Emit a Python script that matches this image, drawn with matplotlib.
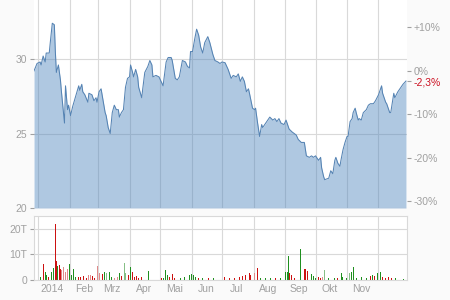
import numpy as np
import pandas as pd
import matplotlib
matplotlib.use("Agg")
import matplotlib.pyplot as plt
import matplotlib.dates as mdates
from matplotlib.ticker import FuncFormatter

plt.rcParams['font.family'] = ['Liberation Sans', 'DejaVu Sans']

# ==========================================
# 数据：收盘价（天数为 2014-01-01 起的偏移）
# ==========================================
price_days = [-4, -1, 2, 3, 5, 7, 8, 11, 12, 14, 16, 17, 18, 20, 22, 23, 26, 27, 29, 30,
              32, 34, 37, 40, 41, 43, 44, 46, 49, 50, 53, 55, 57, 58, 60, 62, 64, 66, 67, 69,
              71, 73, 75, 77, 79, 80, 82, 84, 86, 88, 90, 91, 93, 94, 96, 98, 99, 102, 103, 105,
              108, 110, 112, 113, 116, 119, 121, 123, 126, 128, 131, 132, 135, 137, 139, 142, 145, 147, 149, 150,
              152, 154, 156, 158, 160, 162, 164, 167, 169, 172, 174, 177, 179, 181, 184, 187, 190, 192, 195, 197,
              199, 201, 203, 205, 207, 208, 211, 213, 214, 216, 218, 220, 221, 225, 228, 231, 233, 235, 237, 239,
              242, 244, 247, 250, 254, 256, 259, 262, 264, 267, 269, 271, 273, 276, 278, 279, 281, 282, 286, 288,
              290, 292, 293, 295, 297, 298, 300, 302, 304, 305, 307, 309, 310, 312, 313, 315, 316, 318, 320, 323,
              325, 327, 330, 332, 335, 338, 339, 342, 343, 346, 347, 350, 351, 354, 356, 359, 362]
prices = [29.2, 29.7, 29.8, 29.6, 30.2, 29.8, 30.4, 30.4, 31.1, 32.4, 32.3, 30.5, 29.1, 29.6, 28.6, 27.8, 25.7, 28.2, 26.6, 26.9,
          26.2, 26.8, 27.5, 28.2, 27.9, 28.3, 27.8, 27.6, 27.1, 27.7, 27.6, 27.2, 27.4, 27.1, 27.8, 28.0, 27.2, 26.4, 26.2, 25.4,
          25.0, 26.4, 26.9, 26.6, 26.6, 26.1, 26.4, 26.6, 28.1, 28.7, 28.8, 29.6, 29.1, 28.8, 29.3, 28.8, 28.1, 27.4, 28.0, 29.1,
          29.5, 29.9, 29.6, 28.8, 28.9, 28.8, 28.5, 28.2, 29.8, 30.1, 30.1, 29.9, 28.7, 28.6, 28.8, 29.9, 29.8, 29.5, 29.4, 30.5,
          30.5, 31.3, 32.0, 31.6, 30.8, 30.4, 31.1, 31.5, 31.1, 30.3, 29.9, 29.8, 29.7, 29.8, 29.75, 29.3, 28.7, 28.9, 28.8, 29.0,
          28.5, 28.8, 28.5, 27.8, 28.0, 27.7, 26.7, 26.6, 26.7, 25.7, 24.8, 25.6, 25.4, 25.8, 26.1, 25.9, 26.0, 25.8, 26.0, 25.7,
          25.6, 25.9, 25.3, 25.1, 24.9, 24.6, 24.4, 24.4, 23.5, 23.4, 23.5, 23.4, 23.5, 23.2, 23.4, 22.7, 22.1, 21.9, 22.0, 22.5,
          22.3, 23.2, 23.4, 23.0, 22.8, 23.2, 23.9, 24.4, 24.8, 24.8, 25.8, 26.0, 26.4, 26.7, 26.4, 25.9, 26.0, 25.9, 26.4, 26.6,
          26.9, 27.0, 27.0, 27.2, 27.6, 28.2, 27.7, 27.1, 27.0, 26.4, 26.4, 27.7, 27.4, 27.8, 28.0, 28.3, 28.52]

# 成交量（单位：千股 T），颜色：r=跌 g=涨，lr/lg 为浅色
vol_days = [2, 5, 7, 8, 10, 13, 15, 17, 18, 19, 21, 22, 23, 25, 27, 29, 31, 33, 35, 37,
            40, 42, 45, 48, 50, 52, 54, 56, 58, 60, 63, 65, 67, 70, 72, 75, 78, 80, 82, 85,
            86, 89, 91, 93, 95, 97, 99, 102, 109, 121, 123, 125, 127, 129, 132, 134, 140, 144, 149, 151,
            153, 155, 158, 162, 168, 173, 183, 188, 193, 198, 201, 204, 208, 209, 213, 216, 219, 224, 229, 234,
            239, 243, 245, 246, 247, 249, 252, 258, 262, 263, 265, 269, 271, 273, 276, 278, 280, 282, 286, 292,
            295, 299, 300, 303, 306, 308, 310, 313, 318, 323, 327, 329, 331, 334, 337, 339, 342, 345, 348, 352, 360]
volumes = [1.3, 6.3, 3.3, 2.0, 1.3, 3.3, 4.6, 22.0, 7.6, 5.5, 5.9, 4.2, 4.0, 5.0, 3.3, 4.2, 6.3, 2.0, 4.2, 1.3,
           1.0, 1.3, 1.6, 0.8, 2.0, 2.0, 1.6, 0.8, 5.5, 2.6, 2.3, 3.3, 2.6, 3.3, 1.3, 0.8, 1.3, 2.6, 1.6, 6.8,
           2.6, 2.0, 5.0, 3.3, 1.3, 1.6, 0.8, 1.0, 3.6, 0.8, 0.8, 4.0, 2.0, 1.3, 2.3, 0.8, 0.8, 1.3, 2.0, 2.3,
           2.0, 1.3, 0.6, 0.8, 0.8, 0.8, 1.3, 0.8, 0.6, 1.3, 1.6, 2.0, 2.6, 2.0, 2.9, 4.6, 0.6, 0.6, 0.6, 0.8,
           0.6, 3.3, 3.3, 9.5, 2.6, 2.0, 0.6, 12.0, 4.2, 4.2, 3.6, 2.3, 1.6, 0.8, 1.3, 0.8, 1.3, 4.0, 0.6, 0.6,
           0.8, 2.9, 1.3, 0.8, 2.9, 3.3, 5.0, 0.6, 1.3, 0.8, 1.6, 2.0, 1.6, 2.6, 3.0, 1.3, 0.8, 1.3, 0.9, 0.6, 0.4]
vol_colors = ['g', 'r', 'g', 'g', 'r', 'g', 'g', 'r', 'r', 'g', 'r', 'r', 'lr', 'lr', 'lr', 'lr', 'g', 'g', 'g', 'g',
              'r', 'r', 'r', 'r', 'lr', 'lr', 'r', 'r', 'lr', 'lr', 'r', 'g', 'lg', 'g', 'g', 'lr', 'lr', 'g', 'r', 'lg',
              'lg', 'r', 'g', 'r', 'r', 'r', 'r', 'r', 'g', 'r', 'g', 'g', 'g', 'r', 'r', 'r', 'g', 'g', 'g', 'g',
              'g', 'g', 'r', 'g', 'r', 'g', 'r', 'r', 'r', 'r', 'r', 'r', 'r', 'r', 'lr', 'r', 'g', 'g', 'g', 'r',
              'g', 'g', 'g', 'g', 'r', 'r', 'r', 'g', 'r', 'r', 'r', 'g', 'g', 'g', 'r', 'r', 'lr', 'lg', 'g', 'g',
              'r', 'g', 'g', 'g', 'lg', 'g', 'g', 'g', 'g', 'g', 'r', 'g', 'r', 'g', 'g', 'r', 'r', 'r', 'r', 'g', 'g']

month_labels = ['2014', 'Feb', 'Mrz', 'Apr', 'Mai', 'Jun', 'Jul', 'Aug', 'Sep', 'Okt', 'Nov']
pct_ticks = [10, 0, -10, -20, -30]
pct_labels = ['+10%', '0%', '-10%', '-20%', '-30%']
last_label = '-2,3%'

# ==========================================
# 画图
# ==========================================
start = pd.Timestamp('2014-01-01')
p_dates = start + pd.to_timedelta(price_days, unit='D')
v_dates = start + pd.to_timedelta(vol_days, unit='D')
base_price = prices[0]

color_map = {'r': '#cc1111', 'g': '#1f8f1f', 'lr': '#e08a8a', 'lg': '#86bf86'}
grid_c = '#d9d9d9'
text_c = '#a0a0a0'
fill_c = '#4f86bd'
line_c = '#5583b3'

fig = plt.figure(figsize=(4.5, 3.0), dpi=100, facecolor='#fafafa')
ax = fig.add_axes([34 / 450, 1 - 208 / 300, 373 / 450, 208 / 300])
axv = fig.add_axes([34 / 450, 1 - 280 / 300, 373 / 450, 64 / 300], sharex=ax)

xmin = start - pd.Timedelta(days=4)
xmax = start + pd.Timedelta(days=363)

# 价格面积图
ax.set_facecolor('white')
ax.fill_between(p_dates, prices, 20, color=fill_c, alpha=0.45, linewidth=0, zorder=2)
ax.plot(p_dates, prices, color=line_c, linewidth=0.75, zorder=3)
ax.set_ylim(20, 20 + 208 / 14.9)
ax.set_xlim(xmin, xmax)
ax.set_yticks([20, 25, 30])
ax.set_yticklabels(['20', '25', '30'])
ax.grid(True, color=grid_c, linewidth=0.8)
ax.set_axisbelow(True)
for s in ax.spines.values():
    s.set_visible(False)
ax.tick_params(axis='y', colors=text_c, labelsize=7.5, length=3, width=0.8, pad=2)

# 右侧百分比轴
axr = ax.twinx()
lo, hi = ax.get_ylim()
axr.set_ylim((lo / base_price - 1) * 100, (hi / base_price - 1) * 100)
last_pct = (prices[-1] / base_price - 1) * 100
axr.set_yticks(pct_ticks + [last_pct])
axr.set_yticklabels(pct_labels + [last_label])
axr.tick_params(axis='y', colors=text_c, labelsize=7.5, length=3, width=0.8, pad=2)
axr.get_yticklabels()[-1].set_color('#cc1122')
axr.yaxis.get_major_ticks()[-1].tick2line.set_color('#cc1122')
for s in axr.spines.values():
    s.set_visible(False)

# 成交量柱状图
axv.set_facecolor('white')
axv.bar(v_dates, volumes, width=1.0, color=[color_map[c] for c in vol_colors],
        linewidth=0, zorder=2)
axv.set_ylim(0, 25)
axv.set_yticks([0, 10, 20])
axv.set_yticklabels(['0', '10T', '20T'])
axv.grid(True, color=grid_c, linewidth=0.8)
axv.set_axisbelow(True)
for s in axv.spines.values():
    s.set_color(grid_c)
    s.set_linewidth(0.8)
axv.tick_params(axis='y', colors=text_c, labelsize=7.5, length=3, width=0.8, pad=2)

# X 轴：月初网格线，月中标签
axv.xaxis.set_major_locator(mdates.MonthLocator())
axv.xaxis.set_major_formatter(FuncFormatter(lambda x, pos: ''))
axv.xaxis.set_minor_locator(mdates.MonthLocator(bymonth=range(1, 12), bymonthday=15))
axv.xaxis.set_minor_formatter(FuncFormatter(
    lambda x, pos: month_labels[mdates.num2date(x).month - 1]))
axv.tick_params(axis='x', which='both', length=0, colors=text_c, labelsize=7.5, pad=3)
ax.tick_params(axis='x', which='both', length=0, labelbottom=False)
axv.set_xlim(xmin, xmax)

plt.savefig('out.png', dpi=100, facecolor=fig.get_facecolor())
plt.close()
